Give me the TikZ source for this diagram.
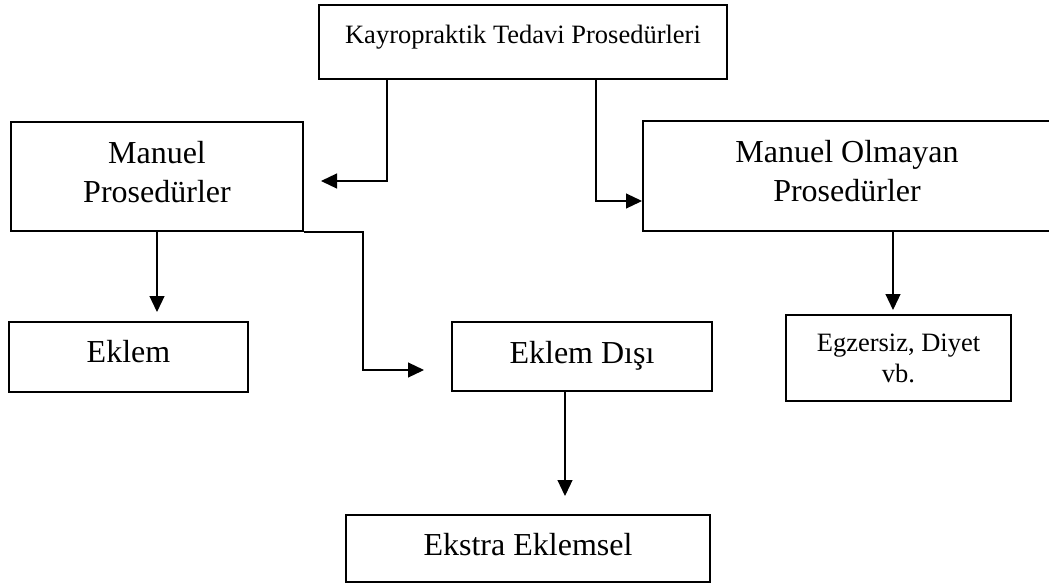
\documentclass[tikz,border=0pt]{standalone}
\usepackage{fontspec}
\setmainfont{Liberation Serif}
\usetikzlibrary{arrows.meta}
\tikzset{
  box/.style={draw=black, line width=2pt, rectangle, inner sep=0pt, anchor=center, align=center},
  big/.style={font=\fontsize{32}{39}\selectfont},
  small/.style={font=\fontsize{26.5}{31}\selectfont},
  conn/.style={draw=black, line width=1.2pt, -{Triangle[length=16pt,width=15pt]}},
}
\begin{document}
\begin{tikzpicture}[x=1pt,y=-1pt]
\useasboundingbox (0,0) rectangle (1049,584);
\clip (0,0) rectangle (1049,584);
% boxes
\node[box, small, minimum width=408pt, minimum height=74pt, text height=18pt, text depth=16pt] (top) at (523,42) {Kayropraktik Tedavi Prosedürleri};
\node[box, big, minimum width=292pt, minimum height=109pt] (man) at (157,176.5) {Manuel\\Prosedürler\rule[-10pt]{0pt}{10pt}};
\node[box, big, minimum width=408pt, minimum height=110pt] (olm) at (847,176) {Manuel Olmayan\\Prosedürler\rule[-10pt]{0pt}{10pt}};
\node[box, big, minimum width=239pt, minimum height=70pt, text height=22pt, text depth=12pt] (ekl) at (128.5,357) {Eklem};
\node[box, big, minimum width=260pt, minimum height=69pt, text height=22pt, text depth=8pt] (dis) at (582,356.5) {Eklem Dışı};
\node[box, small, minimum width=225pt, minimum height=86pt] (egz) at (898.5,358) {Egzersiz, Diyet\\vb.};
\node[box, big, minimum width=364pt, minimum height=67pt, text height=22pt, text depth=9pt] (ext) at (528,548.5) {Ekstra Eklemsel};
% free arrow ends
\coordinate (e1) at (321,181);
\coordinate (e3) at (157,312);
\coordinate (e4) at (424,370);
\coordinate (e5) at (893,310);
\coordinate (e6) at (565,496);
% connectors
\draw[conn] (387,0 |- top.south) -- (387,181) -- (e1);
\draw[conn] (596,0 |- top.south) -- (596,201) -- (olm.west |- 0,201);
\draw[conn] (157,0 |- man.south) -- (e3);
\draw[conn] (man.south east) -- (363,0 |- man.south east) -- (363,370) -- (e4);
\draw[conn] (893,0 |- olm.south) -- (e5);
\draw[conn] (565,0 |- dis.south) -- (e6);
\end{tikzpicture}
\end{document}
